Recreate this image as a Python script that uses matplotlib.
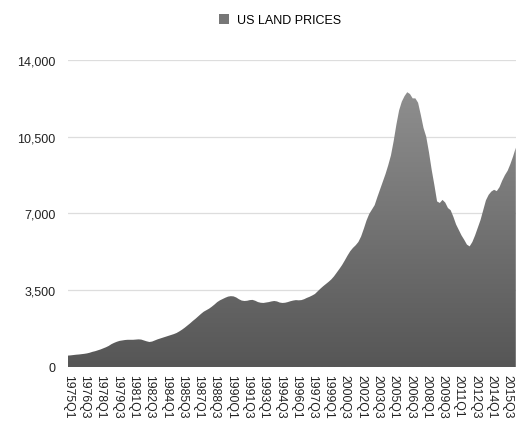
import numpy as np
import matplotlib.pyplot as plt
from matplotlib.colors import LinearSegmentedColormap
from matplotlib.patches import Patch

# quarterly values, 1975Q1 .. 2016Q2
values = [
    520, 530, 545, 560,        # 1975
    570, 585, 600, 620,        # 1976
    650, 690, 720, 760,        # 1977
    800, 850, 900, 960,        # 1978
    1040, 1100, 1150, 1190,    # 1979
    1210, 1230, 1240, 1240,    # 1980
    1240, 1250, 1260, 1250,    # 1981
    1210, 1170, 1140, 1160,    # 1982
    1210, 1260, 1300, 1340,    # 1983
    1380, 1420, 1460, 1500,    # 1984
    1550, 1620, 1700, 1790,    # 1985
    1890, 1990, 2100, 2200,    # 1986
    2310, 2420, 2520, 2590,    # 1987
    2660, 2750, 2850, 2960,    # 1988
    3040, 3100, 3160, 3210,    # 1989
    3230, 3220, 3170, 3090,    # 1990
    3030, 3010, 3020, 3050,    # 1991
    3060, 3020, 2960, 2930,    # 1992
    2920, 2940, 2960, 2990,    # 1993
    3010, 2990, 2940, 2920,    # 1994
    2930, 2960, 3000, 3030,    # 1995
    3050, 3040, 3050, 3090,    # 1996
    3150, 3200, 3260, 3330,    # 1997
    3450, 3570, 3680, 3780,    # 1998
    3880, 3990, 4130, 4300,    # 1999
    4470, 4650, 4860, 5080,    # 2000
    5280, 5430, 5550, 5700,    # 2001
    5950, 6300, 6680, 6980,    # 2002
    7180, 7380, 7750, 8100,    # 2003
    8450, 8800, 9200, 9650,    # 2004
    10300, 11050, 11700, 12100,  # 2005
    12350, 12530, 12450, 12250,  # 2006
    12250, 12050, 11500, 10900,  # 2007
    10500, 9800, 9000, 8300,   # 2008
    7550, 7480, 7620, 7500,    # 2009
    7250, 7150, 6850, 6500,    # 2010
    6250, 6000, 5800, 5580,    # 2011
    5500, 5700, 6000, 6350,    # 2012
    6700, 7150, 7600, 7850,    # 2013
    8000, 8080, 8020, 8200,    # 2014
    8500, 8750, 8950, 9250,    # 2015
    9600, 10000,               # 2016
]
quarters = [f"{1975 + i // 4}Q{i % 4 + 1}" for i in range(len(values))]
y_ticks = [0, 3500, 7000, 10500, 14000]

plt.rcParams['font.family'] = ['Liberation Sans', 'DejaVu Sans']

fig = plt.figure(figsize=(5.21, 4.31), dpi=100)
ax = fig.add_axes([0.1305, 0.1462, 0.8595, 0.7123])

x = np.arange(len(values))
y = np.array(values)

# gradient area: dark at the bottom, lighter at the top
cmap = LinearSegmentedColormap.from_list('grey', ['#565656', '#959595'])
poly = ax.fill_between(x, 0, y, facecolor='none', edgecolor='none')
grad = np.linspace(0, 1, 256).reshape(-1, 1)
img = ax.imshow(grad, cmap=cmap, origin='lower', aspect='auto',
                extent=[0, len(values) - 1, 0, 14000], zorder=2)
img.set_clip_path(poly.get_paths()[0], transform=ax.transData)

ax.set_xlim(0, len(values) - 1)
ax.set_ylim(0, 14000)

ax.set_yticks(y_ticks)
ax.set_yticklabels([f"{v:,}" for v in y_ticks], fontsize=9, color='#222222')
ax.yaxis.grid(True, color='#dddddd', linewidth=0.9)
ax.set_axisbelow(True)

tick_idx = list(range(0, len(values), 6))
ax.set_xticks(tick_idx)
ax.set_xticklabels([quarters[i] for i in tick_idx], rotation=-90,
                   fontsize=8.8, color='#222222', va='top', ha='center')

ax.tick_params(axis='both', length=0)
ax.tick_params(axis='y', pad=9)
ax.tick_params(axis='x', pad=5)
for s in ax.spines.values():
    s.set_visible(False)

handle = Patch(facecolor='#777777', edgecolor='none')
fig.legend([handle], ['US LAND PRICES'], loc='center', bbox_to_anchor=(280 / 521, 1 - 21 / 431),
           frameon=False, fontsize=9, handlelength=0.8, handleheight=0.8,
           handletextpad=0.6, borderpad=0)

fig.savefig('out.png', dpi=100)
